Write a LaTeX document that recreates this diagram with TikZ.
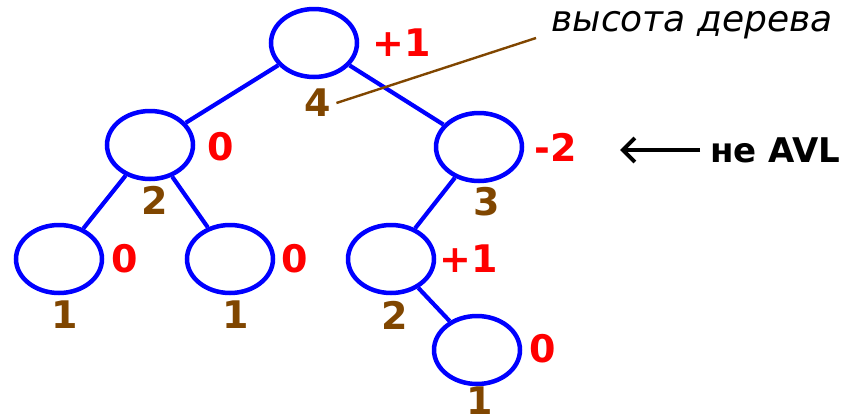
\documentclass[tikz,border=0pt]{standalone}
\usepackage{fontspec}
\setmainfont{DejaVu Sans}
\usetikzlibrary{shapes.geometric,arrows.meta}
\definecolor{nblue}{RGB}{0,0,255}
\definecolor{nred}{RGB}{255,0,0}
\definecolor{nbrown}{RGB}{128,70,0}
\tikzset{
  tnode/.style={ellipse,draw=nblue,line width=4.5pt,minimum width=86pt,minimum height=68pt,inner sep=0pt},
  edge/.style={draw=nblue,line width=4.2pt},
  bal/.style={text=nred,font=\bfseries\fontsize{38}{38}\selectfont,inner sep=0pt},
  hgt/.style={text=nbrown,font=\bfseries\fontsize{38}{38}\selectfont,inner sep=0pt},
}
\begin{document}
\begin{tikzpicture}[x=1pt,y=-1pt]
\useasboundingbox (0,0) rectangle (856,418);
% tree nodes
\node[tnode] (r) at (314,43) {};
\node[tnode] (a) at (150,145) {};
\node[tnode] (b) at (479,147) {};
\node[tnode] (c) at (59,259) {};
\node[tnode] (d) at (230,259) {};
\node[tnode] (e) at (391,259) {};
\node[tnode] (f) at (477,350) {};
% edges
\draw[edge] (r) -- (a);
\draw[edge] (r) -- (b);
\draw[edge] (a) -- (c);
\draw[edge] (a) -- (d);
\draw[edge] (b) -- (e);
\draw[edge] (e) -- (f);
% balance factors
\node[bal] (br) at (402,43) {+1};
\node[bal] (ba) at (221,147) {0};
\node[bal] (bb) at (556,147) {-2};
\node[bal] (bc) at (125,259) {0};
\node[bal] (bd) at (295,259) {0};
\node[bal] (be) at (469,259) {+1};
\node[bal] (bf) at (543,349) {0};
% heights
\node[hgt] (hr) at (318,103) {4};
\node[hgt] (ha) at (155,200) {2};
\node[hgt] (hb) at (487,202) {3};
\node[hgt] (hc) at (65,315) {1};
\node[hgt] (hd) at (236,315) {1};
\node[hgt] (he) at (395,315) {2};
\node[hgt] (hf) at (480,401) {1};
% annotation
\node[font=\itshape\fontsize{36}{36}\selectfont,inner sep=0pt] (ht) at (692,25) {высота дерева};
\coordinate (hend) at (536,38);
\draw[nbrown,line width=2.4pt] (hr.east) ++(5,0) -- (hend);
\node[font=\bfseries\fontsize{34}{34}\selectfont,inner sep=0pt,anchor=west] (navl) at (710,150) {не AVL};
\coordinate (atip) at (620,150);
\draw[line width=4pt,-{Straight Barb[length=12pt,width=24pt]}] (navl.west) ++(-10,0) -- (atip);
\end{tikzpicture}
\end{document}
